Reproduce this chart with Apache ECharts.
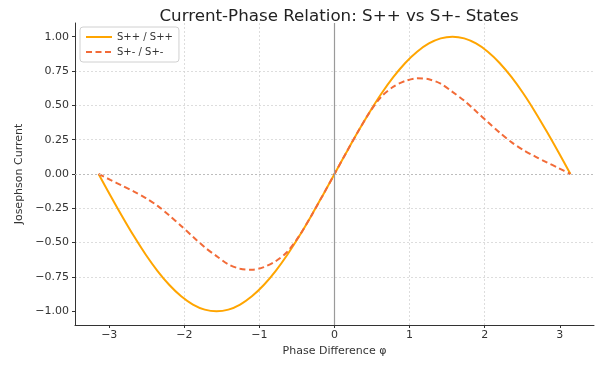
<!DOCTYPE html>
<html>
<head>
<meta charset="utf-8">
<script src="https://cdn.jsdelivr.net/npm/echarts@6/dist/echarts.min.js"></script>
<style>html,body{margin:0;padding:0;background:#fff}#c{width:598px;height:365px}</style>
</head>
<body>
<div id="c"></div>
<script>
const phi = [-3.142,-2.985,-2.827,-2.670,-2.513,-2.356,-2.199,-2.042,-1.885,-1.728,-1.571,-1.414,-1.257,-1.100,-0.942,-0.785,-0.628,-0.471,-0.314,-0.157,0,
  0.157,0.314,0.471,0.628,0.785,0.942,1.100,1.257,1.414,1.571,1.728,1.885,2.042,2.199,2.356,2.513,2.670,2.827,2.985,3.142];
const sPlusPlus = [0,-0.156,-0.309,-0.454,-0.588,-0.707,-0.809,-0.891,-0.951,-0.988,-1.0,-0.988,-0.951,-0.891,-0.809,-0.707,-0.588,-0.454,-0.309,-0.156,0,
  0.156,0.309,0.454,0.588,0.707,0.809,0.891,0.951,0.988,1.0,0.988,0.951,0.891,0.809,0.707,0.588,0.454,0.309,0.156,0];
const sPlusMinus = [0,-0.043,-0.085,-0.128,-0.175,-0.232,-0.302,-0.378,-0.457,-0.534,-0.598,-0.658,-0.690,-0.697,-0.678,-0.636,-0.566,-0.452,-0.309,-0.156,0,
  0.156,0.309,0.452,0.566,0.636,0.678,0.697,0.690,0.658,0.598,0.534,0.457,0.378,0.302,0.232,0.175,0.128,0.085,0.043,0];
const xTicks = [-3,-2,-1,0,1,2,3];
const yTicks = [-1,-0.75,-0.5,-0.25,0,0.25,0.5,0.75,1];
const seriesNames = ['S++ / S++','S+- / S+-'];

const fmtMinus = s => s.replace('-', '\u2212');
const chart = echarts.init(document.getElementById('c'), null, {renderer:'canvas'});
const font = 'DejaVu Sans';
chart.setOption({
  animation:false,
  textStyle:{fontFamily:font},
  title:{text:'Current-Phase Relation: S++ vs S+- States',left:334,textAlign:'center',top:3,
    textStyle:{fontFamily:font,fontSize:16.7,fontWeight:'normal',color:'#222'}},
  grid:{left:75,right:4,top:23,bottom:40},
  legend:{orient:'vertical',left:80,top:27,itemWidth:26,itemHeight:10,itemGap:5,
    borderColor:'#d0d0d0',borderWidth:1,borderRadius:3,padding:[5,6,5,5],backgroundColor:'rgba(255,255,255,0.8)',
    itemStyle:{opacity:0},
    textStyle:{fontFamily:font,fontSize:10,color:'#333'},data:seriesNames},
  xAxis:{type:'value',min:-3.456,max:3.456,
    name:'Phase Difference φ',nameLocation:'middle',nameGap:21,nameTextStyle:{fontFamily:font,fontSize:11,color:'#333'},
    axisLine:{show:true,onZero:false,lineStyle:{color:'#333',width:1}},
    axisTick:{show:true,length:3,customValues:xTicks,lineStyle:{color:'#333'}},
    axisLabel:{customValues:xTicks,margin:5,fontSize:11,color:'#333',formatter:v=>fmtMinus(String(v))},
    splitLine:{show:true,showMinLine:false,showMaxLine:false,lineStyle:{color:'#d5d5d5',type:[2,2],width:0.8}}},
  yAxis:{type:'value',min:-1.1,max:1.1,
    name:'Josephson Current',nameLocation:'middle',nameGap:48,nameTextStyle:{fontFamily:font,fontSize:11,color:'#333'},
    axisLine:{show:true,onZero:false,lineStyle:{color:'#333',width:1}},
    axisTick:{show:true,length:3,customValues:yTicks,lineStyle:{color:'#333'}},
    axisLabel:{customValues:yTicks,margin:6,fontSize:11,color:'#333',formatter:v=>fmtMinus(v.toFixed(2))},
    splitLine:{show:true,showMinLine:false,showMaxLine:false,lineStyle:{color:'#d5d5d5',type:[2,2],width:0.8}}},
  series:[
    {name:seriesNames[0],type:'line',data:phi.map((p,i)=>[p,sPlusPlus[i]]),symbol:'none',smooth:0.3,
      lineStyle:{color:'#FFA500',width:2},itemStyle:{color:'#FFA500'},z:3,
      markLine:{silent:true,symbol:'none',label:{show:false},animation:false,
        data:[{xAxis:0,lineStyle:{color:'#9a9a9a',width:1.2,type:'solid'}},{yAxis:0,lineStyle:{color:'#bdbdbd',width:1,type:[2,2]}}]}},
    {name:seriesNames[1],type:'line',data:phi.map((p,i)=>[p,sPlusMinus[i]]),symbol:'none',smooth:0.3,
      lineStyle:{color:'#F26B38',width:2,type:[6,3.5]},itemStyle:{color:'#F26B38'},z:4}
  ]
});
</script>
</body>
</html>
